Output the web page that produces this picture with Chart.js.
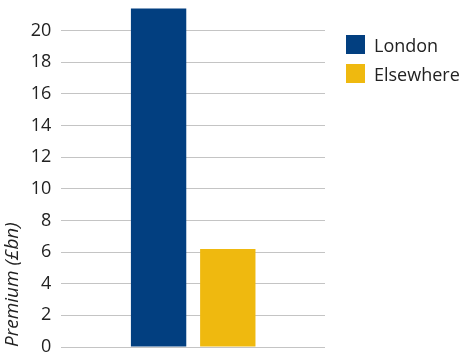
<!DOCTYPE html>
<html>
<head>
<meta charset="utf-8">
<script src="https://cdn.jsdelivr.net/npm/chart.js@4"></script>
<style>
  html, body { margin: 0; padding: 0; background: #fff; }
  #wrap { position: relative; width: 463px; height: 354px; }
  #legend { position: absolute; left: 346px; top: 35px; font-family: "Open Sans", sans-serif; font-size: 18px; color: #222; }
  #legend .item { display: flex; align-items: center; height: 19px; margin-bottom: 10px; }
  #legend .box { width: 19px; height: 19px; margin-right: 9px; }
</style>
</head>
<body>
<div id="wrap">
  <canvas id="chart" width="463" height="354"></canvas>
  <div id="legend"></div>
</div>
<script>
// ============================
// DATA
// ============================

const categories = [""];
const seriesNames = ["London", "Elsewhere"];
const londonValues = [21.4];
const elsewhereValues = [6.2];
const seriesColors = ["#023f80", "#efb90f"];
const yTicks = [0, 2, 4, 6, 8, 10, 12, 14, 16, 18, 20];

const FONT = "'Open Sans', sans-serif";

// ============================
// LEGEND (html)
// ============================

const legendEl = document.getElementById("legend");
legendEl.innerHTML = seriesNames.map((name, i) => `
  <div class="item"><span class="box" style="background:${seriesColors[i]}"></span>${name}</div>
`).join("");

// ============================
// CHART
// ============================

new Chart(document.getElementById("chart"), {
  type: "bar",
  data: {
    labels: categories,
    datasets: [
      {
        label: seriesNames[0],
        data: londonValues,
        backgroundColor: seriesColors[0]
      },
      {
        label: seriesNames[1],
        data: elsewhereValues,
        backgroundColor: seriesColors[1]
      }
    ]
  },
  options: {
    responsive: false,
    animation: false,
    layout: {
      padding: { top: 7, right: 138, bottom: 7, left: 1 }
    },
    categoryPercentage: 0.525,
    barPercentage: 0.8,
    plugins: {
      legend: { display: false },
      tooltip: { enabled: false }
    },
    scales: {
      x: {
        display: false,
        grid: { display: false }
      },
      y: {
        min: 0,
        max: 21.5,
        afterBuildTicks: axis => {
          axis.ticks = yTicks.map(v => ({ value: v }));
        },
        // labels + tick padding would otherwise push the plot area in
        afterFit: axis => {
          axis.paddingTop = 0;
          axis.paddingBottom = 0;
        },
        border: { display: false },
        grid: {
          color: "#c4c4c4",
          lineWidth: 1,
          drawTicks: false
        },
        ticks: {
          padding: 10,
          color: "#222",
          font: { family: FONT, size: 18 }
        },
        title: {
          display: true,
          text: "Premium (£bn)",
          align: "start",
          color: "#222",
          padding: { top: 0, bottom: -3 },
          font: { family: FONT, size: 19, style: "italic" }
        }
      }
    }
  }
});
</script>
</body>
</html>
